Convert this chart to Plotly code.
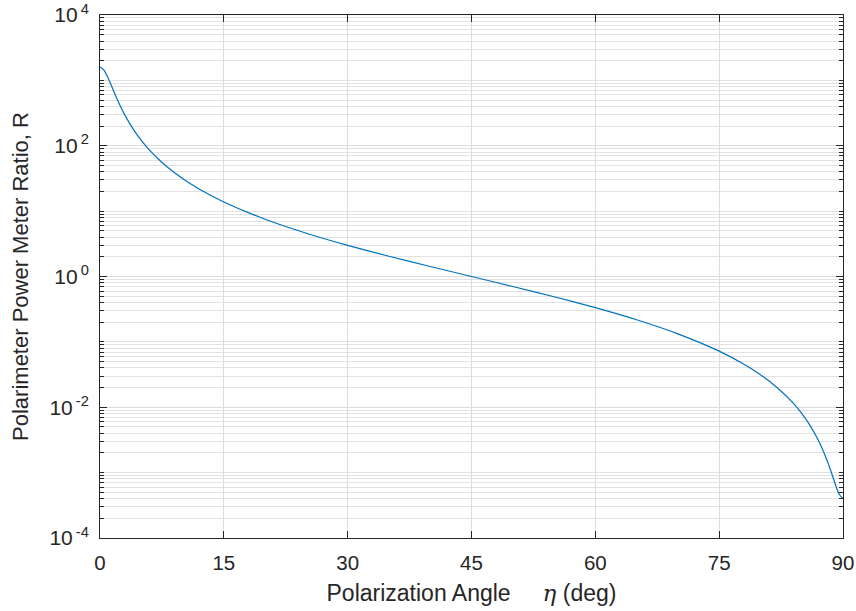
import plotly.graph_objects as go

# Polarization angle (deg) and power-meter ratio R
eta_deg = [0, 0.5, 1, 1.5, 2, 2.5, 3, 4, 5, 6, 7, 8, 10, 12, 15, 20, 25, 30,
           35, 40, 45, 50, 55, 60, 65, 70, 75, 78, 80, 82, 84, 85, 86, 87,
           88, 88.5, 89, 89.5, 90]
ratio_R = [1600, 1427, 1076, 763, 542, 395, 296.6, 181.3, 120.8, 85.8, 63.8,
           49.1, 31.55, 21.84, 13.81, 7.51, 4.59, 2.99, 2.04, 1.42, 1.0,
           0.704, 0.4905, 0.3336, 0.2178, 0.1328, 0.0722, 0.0456, 0.0315,
           0.0201, 0.01144, 0.00805, 0.00529, 0.00315, 0.00162, 0.00109,
           0.000704, 0.000476, 0.0004]

x_ticks = [0, 15, 30, 45, 60, 75, 90]
y_ticks = [1e-4, 1e-2, 1e0, 1e2, 1e4]
y_ticktext = ["10<sup>\u2009-4</sup>", "10<sup>\u2009-2</sup>",
              "10<sup>\u20090</sup>", "10<sup>\u20092</sup>",
              "10<sup>\u20094</sup>"]
y_minor = [m * 10.0 ** d for d in range(-4, 4) for m in range(2, 10)] + \
          [10.0 ** d for d in [-3, -1, 1, 3]]

FONT = "Liberation Sans, Arial, Helvetica, sans-serif"
AXC = "#262626"
GRID = "#dcdcdc"

fig = go.Figure()
fig.add_trace(go.Scatter(x=eta_deg, y=ratio_R, mode="lines",
                         line=dict(color="#0072BD", width=1.2, shape="spline",
                                   smoothing=0.6),
                         showlegend=False))

fig.update_layout(
    width=856, height=611,
    margin=dict(l=100, r=13, t=15, b=73),
    paper_bgcolor="white", plot_bgcolor="white",
    font=dict(family=FONT, color=AXC, size=20),
    xaxis=dict(
        range=[0, 90], tickvals=x_ticks, ticks="inside", ticklen=7,
        tickcolor=AXC, showline=True, linecolor=AXC, linewidth=1,
        mirror="ticks", showgrid=True, gridcolor=GRID, gridwidth=1,
        zeroline=False, tickfont=dict(size=20.5, color=AXC),
        automargin=False, ticklabelstandoff=6,
        title=dict(text="Polarization Angle\u00a0\u00a0\u00a0\u00a0\u00a0"
                        "<span style=\"font-family:'DejaVu Serif';font-style:italic\">η</span>"
                        " (deg)",
                   font=dict(size=23, color=AXC), standoff=12),
    ),
    yaxis=dict(
        type="log", range=[-4, 4], tickvals=y_ticks, ticktext=y_ticktext,
        ticks="inside", ticklen=7, tickcolor=AXC, showline=True,
        linecolor=AXC, linewidth=1, mirror="ticks", showgrid=True,
        gridcolor=GRID, gridwidth=1, zeroline=False,
        tickfont=dict(size=21, color=AXC), automargin=False,
        ticklabelstandoff=6,
        minor=dict(tickvals=y_minor, ticks="inside", ticklen=4,
                   tickcolor=AXC, showgrid=True, gridcolor="#e2e2e2",
                   gridwidth=1),
        title=dict(text="Polarimeter Power Meter Ratio, R",
                   font=dict(size=22, color=AXC), standoff=14),
    ),
)

fig.write_html("out.html")
